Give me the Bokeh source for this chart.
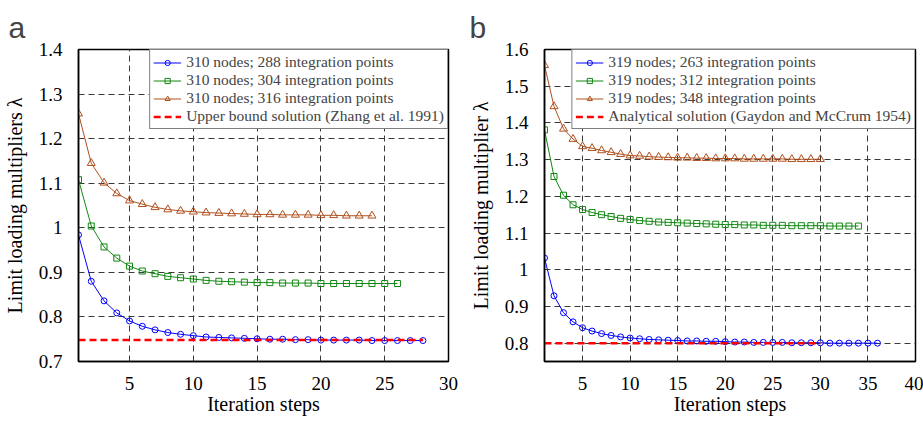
from bokeh.plotting import figure
from bokeh.layouts import row
from bokeh.models import FixedTicker, Range1d, Legend, LegendItem, CustomJSTickFormatter
from bokeh.embed import file_html
from bokeh.resources import INLINE

# ---------------- Panel a data ----------------
a_blue = [0.984, 0.880, 0.836, 0.809, 0.791, 0.779, 0.771, 0.765, 0.761, 0.758,
          0.755, 0.754, 0.753, 0.752, 0.751, 0.750, 0.750, 0.749, 0.749, 0.748,
          0.748, 0.748, 0.748, 0.747, 0.747, 0.747, 0.747, 0.747]
a_green = [1.108, 1.004, 0.957, 0.932, 0.914, 0.903, 0.897, 0.891, 0.888, 0.885,
           0.882, 0.880, 0.879, 0.878, 0.877, 0.877, 0.876, 0.876, 0.876, 0.875,
           0.875, 0.875, 0.875, 0.875, 0.875, 0.875]
a_brown = [1.256, 1.145, 1.101, 1.077, 1.061, 1.053, 1.046, 1.041, 1.038, 1.036,
           1.034, 1.033, 1.032, 1.031, 1.030, 1.030, 1.029, 1.029, 1.029, 1.028,
           1.028, 1.027, 1.027, 1.027]
a_ref_x = [1, 28]
a_ref_y = [0.748, 0.748]
a_labels = ["310 nodes; 288 integration points",
            "310 nodes; 304 integration points",
            "310 nodes; 316 integration points",
            "Upper bound solution (Zhang et al. 1991)"]
a_xticks = [5, 10, 15, 20, 25, 30]
a_yticks = [0.7, 0.8, 0.9, 1.0, 1.1, 1.2, 1.3, 1.4]

# ---------------- Panel b data ----------------
b_blue = [1.032, 0.929, 0.883, 0.858, 0.842, 0.833, 0.826, 0.821, 0.817, 0.814,
          0.812, 0.810, 0.809, 0.808, 0.807, 0.806, 0.806, 0.805, 0.805, 0.804,
          0.803, 0.803, 0.802, 0.802, 0.802, 0.802, 0.801, 0.801, 0.801, 0.801,
          0.800, 0.800, 0.800, 0.800, 0.800, 0.800]
b_green = [1.381, 1.254, 1.203, 1.177, 1.164, 1.156, 1.150, 1.145, 1.140, 1.137,
           1.134, 1.132, 1.130, 1.129, 1.128, 1.127, 1.126, 1.125, 1.124, 1.123,
           1.123, 1.122, 1.122, 1.121, 1.121, 1.121, 1.120, 1.120, 1.120, 1.120,
           1.119, 1.119, 1.119, 1.119]
b_brown = [1.557, 1.445, 1.384, 1.356, 1.336, 1.331, 1.325, 1.320, 1.315, 1.311,
           1.310, 1.308, 1.307, 1.306, 1.305, 1.305, 1.304, 1.304, 1.303, 1.303,
           1.303, 1.302, 1.302, 1.302, 1.302, 1.302, 1.301, 1.301, 1.301, 1.301]
b_ref_x = [1, 30]
b_ref_y = [0.800, 0.800]
b_labels = ["319 nodes; 263 integration points",
            "319 nodes; 312 integration points",
            "319 nodes; 348 integration points",
            "Analytical solution (Gaydon and McCrum 1954)"]
b_xticks = [5, 10, 15, 20, 25, 30, 35, 40]
b_yticks = [0.8, 0.9, 1.0, 1.1, 1.2, 1.3, 1.4, 1.5, 1.6]

BLUE = "#0000ff"
GREEN = "#118811"
BROWN = "#b0501e"
RED = "#ff0000"
SERIF = "'Liberation Serif', serif"


def make_panel(letter, blue, green, brown, ref_x, ref_y, labels, xticks, yticks,
               xr, yr, ylabel, width, border_left, border_right):
    p = figure(width=width, height=421, output_backend="svg", toolbar_location=None,
               x_range=Range1d(*xr), y_range=Range1d(*yr),
               min_border_left=border_left, min_border_right=border_right,
               min_border_top=49, min_border_bottom=60)
    p.title.text = letter
    p.title.text_font = "Liberation Sans"
    p.title.text_font_size = "30px"
    p.title.text_font_style = "normal"
    p.title.vertical_align = "middle"
    p.title.align = "left"
    p.title.offset = -(border_left - 8)
    p.title.standoff = 10

    p.outline_line_color = "black"
    p.outline_line_width = 1.5
    for ax in (p.xaxis[0], p.yaxis[0]):
        ax.axis_line_color = "black"
        ax.axis_line_width = 1.5
        ax.major_tick_line_color = None
        ax.minor_tick_line_color = None
        ax.major_label_text_font = SERIF
        ax.major_label_text_font_size = "19px"
        ax.major_label_text_color = "black"
        ax.axis_label_text_font = SERIF
        ax.axis_label_text_font_size = "20px"
        ax.axis_label_text_font_style = "normal"
        ax.axis_label_text_color = "black"
    p.xaxis.ticker = FixedTicker(ticks=xticks)
    p.yaxis.ticker = FixedTicker(ticks=yticks)
    p.yaxis.formatter = CustomJSTickFormatter(code="return Number(tick.toFixed(2)).toString();")
    p.xaxis.major_label_standoff = 9
    p.yaxis.major_label_standoff = 10
    p.xaxis.axis_label = "Iteration steps"
    p.yaxis.axis_label = ylabel
    p.xaxis.axis_label_standoff = 0
    p.yaxis.axis_label_standoff = 10

    for g in (p.xgrid[0], p.ygrid[0]):
        g.grid_line_color = "#3a3a3a"
        g.grid_line_width = 1
        g.grid_line_dash = "6 4"

    items = []
    specs = [(blue, BLUE, "circle", 6), (green, GREEN, "square", 6), (brown, BROWN, "triangle", 8)]
    for (vals, col, mk, sz), lab in zip(specs, labels):
        xs = list(range(1, len(vals) + 1))
        l = p.line(xs, vals, line_color=col, line_width=1)
        s = p.scatter(xs, vals, marker=mk, size=sz, line_color=col, line_width=1,
                      fill_color="white", fill_alpha=0.0)
        items.append(LegendItem(label=lab, renderers=[l, s]))
    r = p.line(ref_x, ref_y, line_color=RED, line_width=2.5, line_dash="7 4")
    items.append(LegendItem(label=labels[3], renderers=[r]))

    leg = Legend(items=items, location="top_right")
    leg.label_text_font = SERIF
    leg.label_text_font_size = "15.5px"
    leg.label_text_line_height = 0.9
    leg.label_height = 13
    leg.glyph_height = 13
    leg.glyph_width = 28
    leg.label_standoff = 5
    leg.spacing = 0
    leg.padding = 3
    leg.margin = 0
    leg.border_line_color = "black"
    leg.border_line_width = 1.2
    leg.background_fill_color = "white"
    leg.background_fill_alpha = 1.0
    p.add_layout(leg)
    return p


pa = make_panel("a", a_blue, a_green, a_brown, a_ref_x, a_ref_y, a_labels, a_xticks, a_yticks,
                (1, 30), (0.7, 1.4), "Limit loading multipliers λ", 461, 78, 13)
pb = make_panel("b", b_blue, b_green, b_brown, b_ref_x, b_ref_y, b_labels, b_xticks, b_yticks,
                (1, 40), (0.75, 1.6), "Limit loading multiplier λ", 462, 83, 8)

layout = row(pa, pb)
open("out.html", "w").write(file_html(layout, INLINE))
